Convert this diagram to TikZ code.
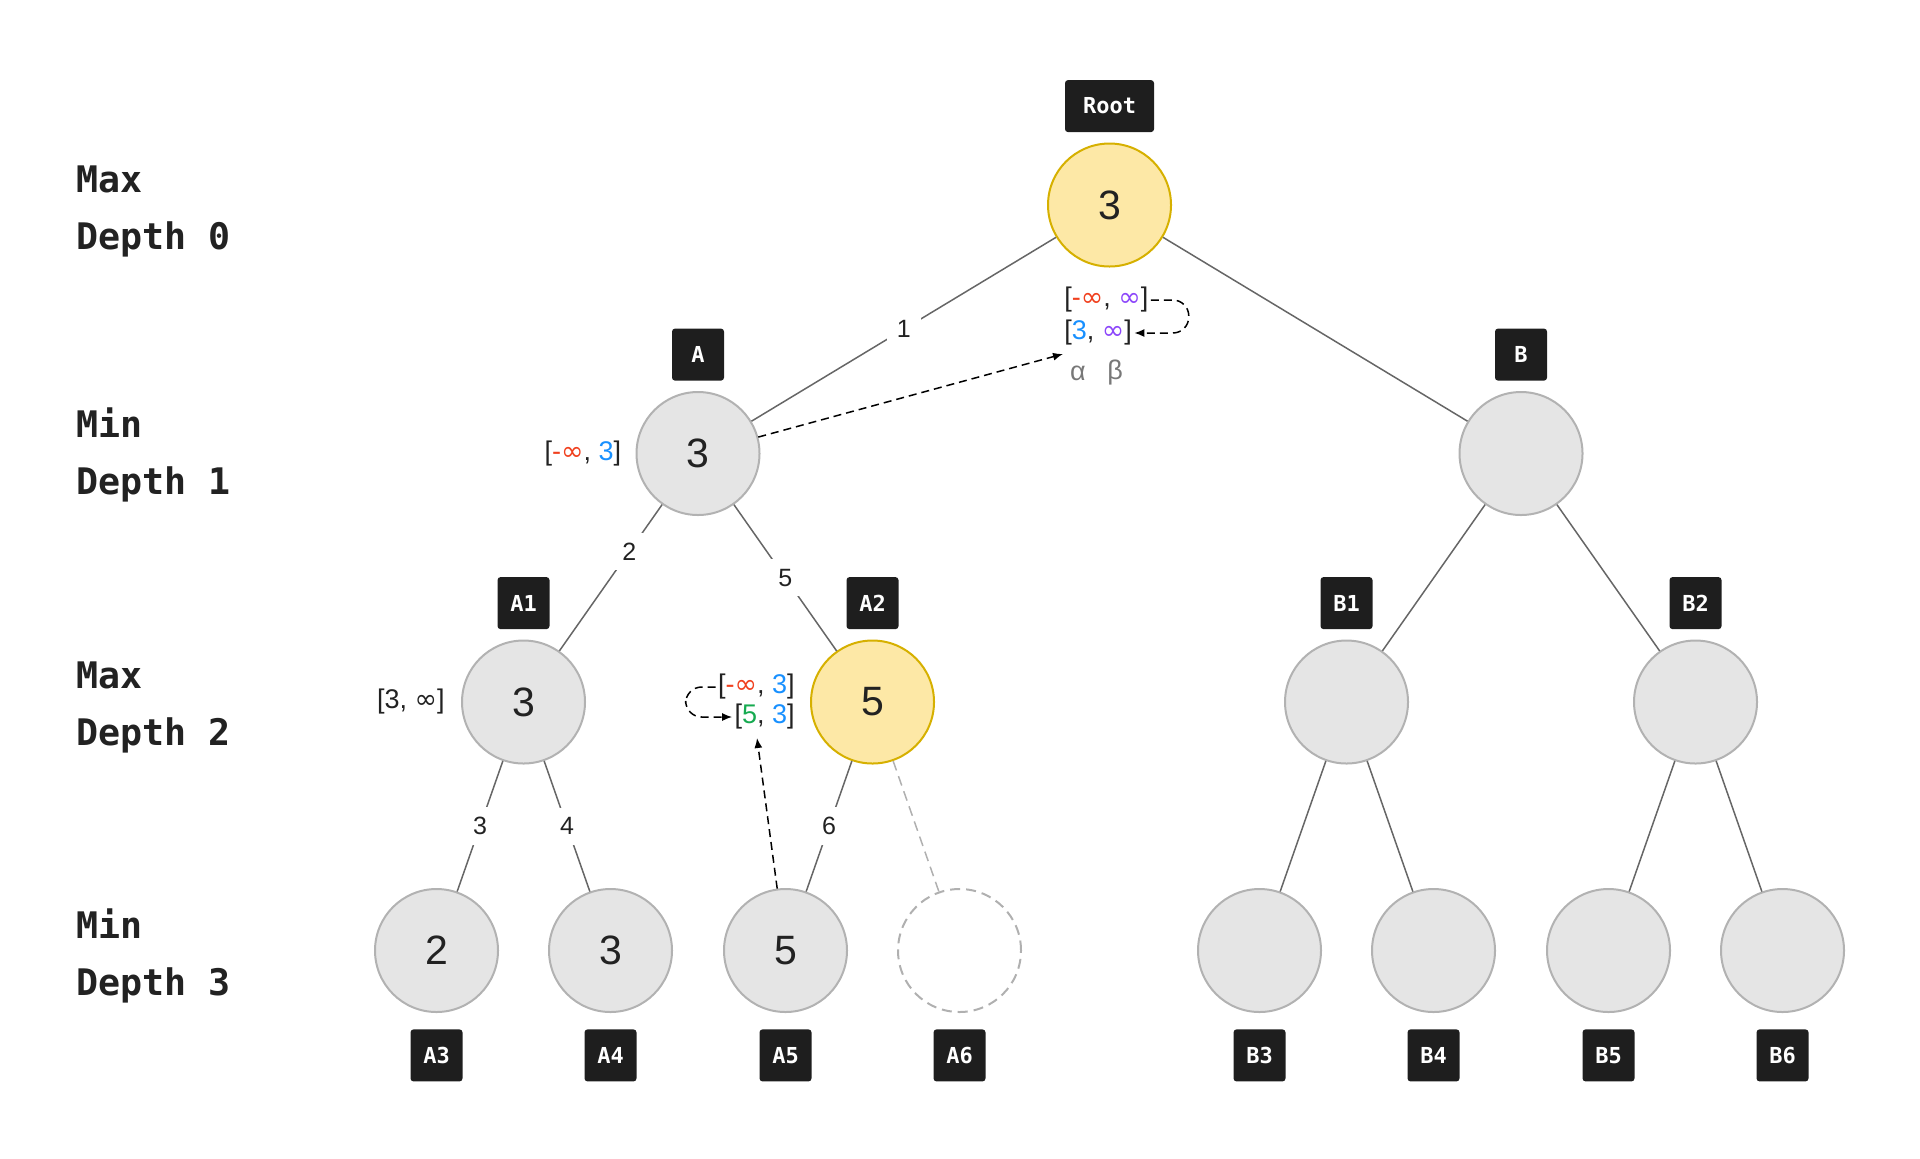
\documentclass[tikz,border=0pt]{standalone}
\usepackage{fontspec}
\usepackage{tikz}
\usepackage{xcolor}
\usetikzlibrary{trees, positioning, arrows.meta}
\setmainfont{Liberation Sans}
\setmonofont{DejaVu Sans Mono}
\newfontfamily\infont{DejaVu Sans}
\definecolor{mmink}{RGB}{34, 34, 34}
\definecolor{mmgold}{RGB}{253, 232, 166}
\definecolor{mmgoldline}{RGB}{214, 176, 0}
\definecolor{mmgray}{RGB}{229, 229, 229}
\definecolor{mmgrayline}{RGB}{178, 178, 178}
\definecolor{mmedge}{RGB}{102, 102, 102}
\definecolor{mmghost}{RGB}{176, 176, 176}
\definecolor{mmtag}{RGB}{30, 30, 30}
\definecolor{mmred}{RGB}{240, 64, 30}
\definecolor{mmblue}{RGB}{24, 144, 255}
\definecolor{mmpurple}{RGB}{140, 70, 250}
\definecolor{mmgreen}{RGB}{22, 170, 80}
\definecolor{mmmuted}{RGB}{120, 120, 120}
\tikzset{
    mmnode/.style={circle, draw, line width=1pt, minimum size=61.5pt, inner sep=0pt, font=\fontsize{20.5}{24}\selectfont, text=mmink},
    hotnode/.style={mmnode, fill=mmgold, draw=mmgoldline},
    coldnode/.style={mmnode, fill=mmgray, draw=mmgrayline},
    prunednode/.style={mmnode, draw=mmghost, dash pattern=on 5pt off 3pt},
    prunededge/.style={draw=mmghost, dash pattern=on 5pt off 3pt},
    tagnode/.style={fill=mmtag, text=white, rounded corners=1.5pt, minimum width=26pt, minimum height=26pt, inner xsep=6pt, font=\ttfamily\bfseries\fontsize{11}{13}\selectfont},
    weightnode/.style={fill=white, inner sep=5pt, text=mmink, font=\fontsize{12.5}{14}\selectfont},
    rangenode/.style={inner sep=1pt, text=mmink, font=\fontsize{13.5}{16}\selectfont},
    depthlabel/.style={anchor=west, align=left, inner sep=0pt, text=mmink, font=\ttfamily\bfseries\fontsize{18.3}{28.5}\selectfont},
    flowline/.style={draw=black, line width=0.75pt, dash pattern=on 4pt off 2.5pt, -{Latex[length=5pt, width=4pt]}}
}
\newcommand{\inff}{{\infont ∞}}
\newcommand{\ninf}{\textcolor{mmred}{-\inff}}

\begin{document}
\begin{tikzpicture}[x=0.5pt, y=-0.5pt,
    level distance=124.25pt,
    level 1/.style={sibling distance=411.5pt},
    level 2/.style={sibling distance=174.5pt},
    level 3/.style={sibling distance=87pt},
    edge from parent/.style={draw, mmedge, line width=0.75pt}]
    \useasboundingbox (0,0) rectangle (1920,1158);

    % row captions
    \node[depthlabel] at (76,211) {Max\\Depth 0};
    \node[depthlabel] at (76,455) {Min\\Depth 1};
    \node[depthlabel] at (76,707) {Max\\Depth 2};
    \node[depthlabel] at (76,956) {Min\\Depth 3};

    % game tree
    \node[hotnode] (Root) at (1109.5,205) {3}
        child {node[coldnode] (A) {3}
            child {node[coldnode] (A1) {3}
                child {node[coldnode] (A3) {2} edge from parent node[weightnode] {3}}
                child {node[coldnode] (A4) {3} edge from parent node[weightnode] {4}}
                edge from parent node[weightnode, pos=0.32] {2}
            }
            child {node[hotnode] (A2) {5}
                child {node[coldnode] (A5) {5} edge from parent node[weightnode] {6}}
                child {node[prunednode] (A6) {} edge from parent[prunededge]}
                edge from parent node[weightnode] {5}
            }
            edge from parent node[weightnode] {1}
        }
        child {node[coldnode] (B) {}
            child {node[coldnode] (B1) {}
                child {node[coldnode] (B3) {}}
                child {node[coldnode] (B4) {}}
            }
            child {node[coldnode] (B2) {}
                child {node[coldnode] (B5) {}}
                child {node[coldnode] (B6) {}}
            }
        };

    % tags
    \node[tagnode, minimum width=44.5pt, above=5pt of Root] {Root};
    \node[tagnode, above=5pt of A] {A};
    \node[tagnode, above=5pt of B] {B};
    \node[tagnode, above=5pt of A1] {A1};
    \node[tagnode, above=5pt of A2] {A2};
    \node[tagnode, above=5pt of B1] {B1};
    \node[tagnode, above=5pt of B2] {B2};
    \node[tagnode, below=8pt of A3] {A3};
    \node[tagnode, below=8pt of A4] {A4};
    \node[tagnode, below=8pt of A5] {A5};
    \node[tagnode, below=8pt of A6] {A6};
    \node[tagnode, below=8pt of B3] {B3};
    \node[tagnode, below=8pt of B4] {B4};
    \node[tagnode, below=8pt of B5] {B5};
    \node[tagnode, below=8pt of B6] {B6};

    % alpha-beta windows
    \node[rangenode, anchor=west] (ab0) at (1062,300) {[\ninf, \textcolor{mmpurple}{\inff}]};
    \node[rangenode, anchor=west] (ab1) at (1062,333) {[\textcolor{mmblue}{3}, \textcolor{mmpurple}{\inff}]};
    \node[rangenode, text=mmmuted] (alpha) at (1078,373) {α};
    \node[rangenode, text=mmmuted] (beta) at (1115,373) {β};
    \node[rangenode, left=6pt of A] (aw) {[\ninf, \textcolor{mmblue}{3}]};
    \node[rangenode, left=7pt of A1] (a1w) {[3, \inff]};
    \node[rangenode, anchor=east] (aa0) at (797,687) {[\ninf, \textcolor{mmblue}{3}]};
    \node[rangenode, anchor=east] (aa1) at (797,717) {[\textcolor{mmgreen}{5}, \textcolor{mmblue}{3}]};
    \coordinate (ab1in) at (1063,354);
    \coordinate (aa1in) at (757,738);

    \draw[flowline, rounded corners=8pt] (ab0.east) -- ++(38,0) |- (ab1.east);
    \draw[flowline, rounded corners=8pt] (aa0.west) -- ++(-30,0) |- (aa1.west);
    \draw[flowline] (A) -- (ab1in);
    \draw[flowline] (A5) -- (aa1in);
\end{tikzpicture}
\end{document}
